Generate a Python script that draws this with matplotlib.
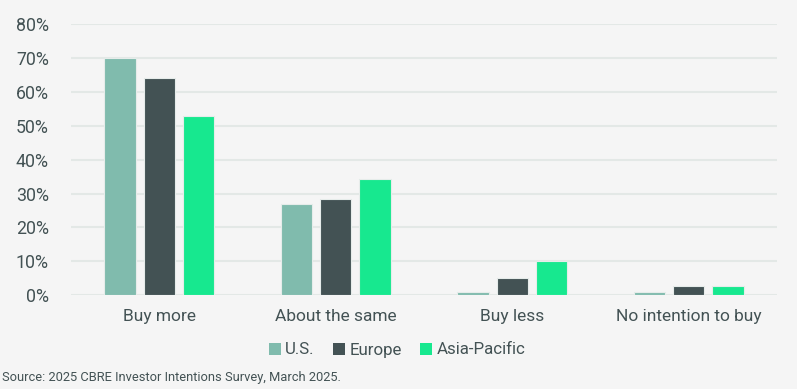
import matplotlib
matplotlib.use("Agg")
import matplotlib.pyplot as plt
import numpy as np
from matplotlib.patches import Patch

categories = ["Buy more", "About the same", "Buy less", "No intention to buy"]
series_names = ["U.S.", "Europe", "Asia-Pacific"]
us = [70, 27, 1, 1]
europe = [64, 28.3, 5, 2.7]
asia = [53, 34.2, 10.2, 2.8]
yticks = [0, 10, 20, 30, 40, 50, 60, 70, 80]
source = "Source: 2025 CBRE Investor Intentions Survey, March 2025."

colors = ["#80BBAD", "#435254", "#17E88F"]
bg = "#F5F5F5"
txt = "#435254"
grid = "#E3E8E6"

plt.rcParams['font.family'] = ['Roboto', 'DejaVu Sans']

fig = plt.figure(figsize=(7.97, 3.89), dpi=100, facecolor=bg)
ax = fig.add_axes([71/797, 1-295.3/389, (777-71)/797, (295.3-24)/389])
ax.set_facecolor(bg)

x = np.arange(len(categories))
w = 0.177
step = 0.2227
for i, (vals, c) in enumerate(zip([us, europe, asia], colors)):
    ax.bar(x + (i-1)*step, vals, width=w, color=c, edgecolor="#E6ECEA",
           linewidth=0.8, zorder=3)

ax.set_xlim(-0.5, 3.5)
ax.set_ylim(0, 80)
ax.set_yticks(yticks)
ax.set_yticklabels([f"{v}%" for v in yticks], fontsize=12.8, color=txt)
ax.set_xticks(x)
ax.set_xticklabels(categories, fontsize=12.5, color=txt)
ax.tick_params(axis='y', length=0, pad=16)
ax.tick_params(axis='x', length=0, pad=10)
ax.grid(axis='y', color=grid, linewidth=1.5, zorder=0)
for s in ax.spines.values():
    s.set_visible(False)

handles = [Patch(facecolor=c, edgecolor='none') for c in colors]
fig.legend(handles, series_names, loc='center', bbox_to_anchor=(397/797, 1-350/389),
           ncol=3, frameon=False, fontsize=12.2, labelcolor=txt,
           handlelength=0.7, handleheight=0.7, handletextpad=0.25,
           columnspacing=1.1)

fig.text(2/797, 1-377/389, source, fontsize=9.3, color=txt, va='center', ha='left')

fig.savefig("out.png", dpi=100, facecolor=bg)
